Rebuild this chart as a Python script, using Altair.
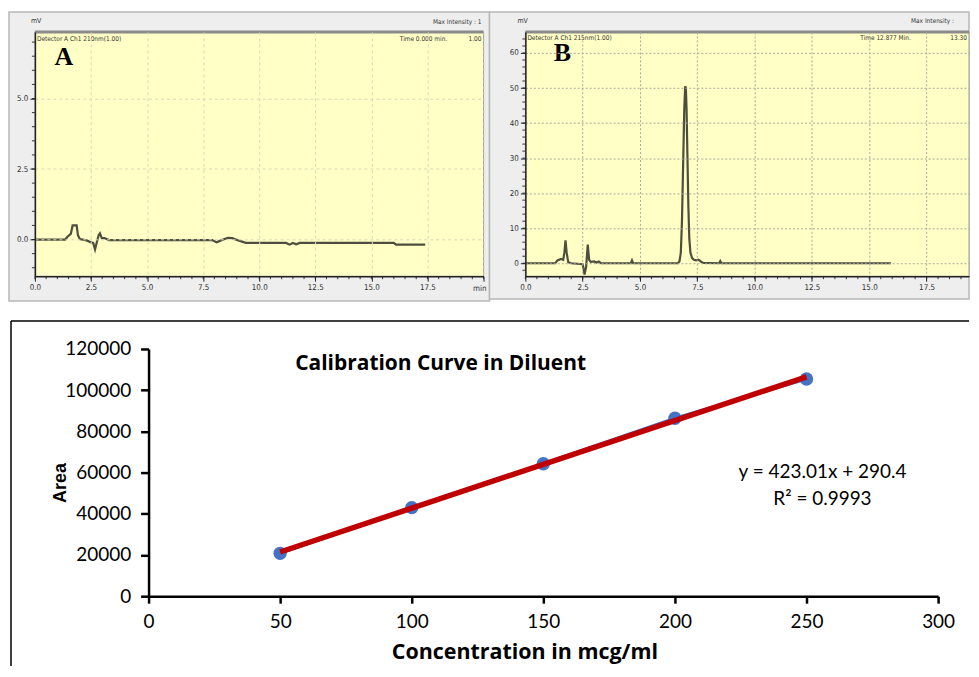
import altair as alt
import pandas as pd

# ---------------- data ----------------
# Chromatogram A (blank / diluent): retention time (min), signal (mV)
a_time = [0.0, 1.35, 1.45, 1.6, 1.68, 1.86, 1.92, 2.0, 2.3, 2.5, 2.6, 2.68, 2.76, 2.84, 2.9, 2.98,
          3.1, 3.3, 7.9, 8.1, 8.3, 8.6, 8.8, 9.1, 9.4, 11.2, 11.35, 11.5, 11.65, 11.8, 16.0, 16.1, 17.4]
a_signal = [0.0, 0.0, 0.1, 0.2, 0.5, 0.5, 0.15, 0.02, -0.03, -0.1, -0.12, -0.35, -0.1, 0.15, 0.22, 0.05,
            0.05, -0.02, -0.02, -0.1, -0.03, 0.06, 0.05, -0.04, -0.12, -0.12, -0.18, -0.12, -0.17, -0.12,
            -0.12, -0.18, -0.18]

# Chromatogram B (standard): retention time (min), signal (mV)
b_time = [0.0, 1.3, 1.4, 1.55, 1.65, 1.7, 1.75, 1.8, 1.87, 2.0, 2.5, 2.58, 2.65, 2.72, 2.78, 2.85,
          3.0, 3.1, 3.2, 3.3, 4.6, 4.65, 4.7, 6.65, 6.72, 6.78, 6.83, 6.88, 6.93, 6.97, 7.0, 7.03,
          7.07, 7.11, 7.15, 7.2, 7.27, 7.35, 7.45, 7.55, 7.65, 7.75, 8.45, 8.5, 8.55, 15.95]
b_signal = [0.0, 0.0, 0.8, 1.2, 1.0, 3.0, 6.5, 3.0, 0.3, 0.0, -0.3, -3.2, -1.0, 5.3, 1.0, 0.4,
            0.5, 0.2, 0.5, 0.0, 0.0, 0.8, 0.0, 0.0, 0.5, 3.0, 12.0, 28.0, 44.0, 50.5, 50.0, 44.0,
            30.0, 16.0, 7.0, 3.0, 1.5, 1.0, 0.8, 1.0, 0.5, 0.1, 0.0, 0.6, 0.0, 0.0]

# Calibration curve
conc = [50, 100, 150, 200, 250]
area = [20800, 43000, 64300, 86400, 105400]

a_xticks = [0.0, 2.5, 5.0, 7.5, 10.0, 12.5, 15.0, 17.5, 20.0]
a_yticks = [0.0, 2.5, 5.0]
b_xticks = [0.0, 2.5, 5.0, 7.5, 10.0, 12.5, 15.0, 17.5]
b_yticks = [0, 10, 20, 30, 40, 50, 60]
c_xticks = [0, 50, 100, 150, 200, 250, 300]
c_yticks = [0, 20000, 40000, 60000, 80000, 100000, 120000]

# minor tick positions of the chromatogram axes
a_xminor = [i * 0.5 for i in range(41)]
a_yminor = [i * 0.5 for i in range(-2, 15)]
b_xminor = [i * 0.5 for i in range(39)]
b_yminor = [i * 2 for i in range(-1, 33)]

one = pd.DataFrame({"k": [0]})

SMALL = "DejaVu Sans Condensed"


def txt(s, x, y, size=7, font=SMALL, weight="normal", align="left", color="#333333", baseline="alphabetic"):
    return alt.Chart(one).mark_text(text=s, font=font, fontSize=size, fontWeight=weight, align=align,
                                    baseline=baseline, color=color, clip=False).encode(
        x=alt.value(x), y=alt.value(y))


def chromatogram(times, signals, xdom, ydom, xticks, yticks, xminor, yminor, xlabel_expr, ylabel_expr,
                 w, h, fx0, fx1, fy1, grid_color, grid_dash, texts):
    df = pd.DataFrame({"t": times, "s": signals})
    xs = alt.Scale(domain=xdom, nice=False, zero=False)
    ys = alt.Scale(domain=ydom, nice=False, zero=False)
    frame = alt.Chart(one).mark_rect(fill="#EEEEEE", stroke="#B8B8B8", strokeWidth=1.5, clip=False).encode(
        x=alt.value(fx0), x2=alt.value(fx1), y=alt.value(-20), y2=alt.value(fy1))
    plotbg = alt.Chart(one).mark_rect(fill="#FFFFC6", stroke="#A0A0A0", strokeWidth=1).encode(
        x=alt.value(0), x2=alt.value(w), y=alt.value(0), y2=alt.value(h))
    topbar = alt.Chart(one).mark_rule(color="#8A8A8A", strokeWidth=3, clip=False).encode(
        x=alt.value(0), x2=alt.value(w), y=alt.value(0))
    common = dict(title=None, grid=True, gridColor=grid_color, gridDash=grid_dash, gridWidth=1,
                  tickSize=5, tickColor="#222222", domainColor="#222222", domainWidth=1.5,
                  labelFont=SMALL, labelFontSize=8, labelColor="#333333", labelPadding=2,
                  labelFlush=False, zindex=1)
    line = alt.Chart(df).mark_line(color="#4E4E3E", strokeWidth=2.2, clip=True).encode(
        x=alt.X("t:Q", scale=xs, axis=alt.Axis(values=xticks, labelExpr=xlabel_expr, **common)),
        y=alt.Y("s:Q", scale=ys, axis=alt.Axis(values=yticks, labelExpr=ylabel_expr, **common)),
    )
    xm = alt.Chart(pd.DataFrame({"t": xminor})).mark_rule(color="#333333", strokeWidth=1, clip=False).encode(
        x=alt.X("t:Q"), y=alt.value(h), y2=alt.value(h + 3))
    ym = alt.Chart(pd.DataFrame({"s": yminor})).mark_rule(color="#333333", strokeWidth=1, clip=False).encode(
        y=alt.Y("s:Q"), x=alt.value(-3), x2=alt.value(0))
    layers = [frame, plotbg, line, xm, ym, topbar] + texts
    return alt.layer(*layers).properties(width=w, height=h)


WA, HA = 450, 245
WB, HB = 445, 245

chartA = chromatogram(
    a_time, a_signal, [0, 20], [-1.3, 7.36], a_xticks, a_yticks, a_xminor, a_yminor,
    "datum.value == 20 ? '' : format(datum.value, '.1f')", "format(datum.value, '.1f')",
    WA, HA, -26, WA + 6, HA + 25, "#D9D9B8", [3, 3],
    [
        txt("A", 29, 33, size=26, font="Liberation Serif", weight="bold", align="center", color="#000000"),
        txt("mV", -4, -9, size=7),
        txt("min", WA + 3, HA + 15, size=8, align="right"),
        txt("Detector A Ch1 210nm(1.00)", 2, 9, size=6.5),
        txt("Time   0.000   min.", 366, 9, size=6.5),
        txt("1.00", 448, 9, size=6.5, align="right"),
        txt("Max Intensity :   1", 448, -8, size=6.5, align="right"),
    ])

chartB = chromatogram(
    b_time, b_signal, [0, 19.35], [-3.7, 66], b_xticks, b_yticks, b_xminor, b_yminor,
    "format(datum.value, '.1f')", "format(datum.value, 'd')",
    WB, HB, -36, WB, HB + 23, "#A8A8A0", [2, 2],
    [
        txt("B", 37, 29, size=26, font="Liberation Serif", weight="bold", align="center", color="#000000"),
        txt("mV", -8, -9, size=7),
        txt("Detector A Ch1 215nm(1.00)", 2, 8, size=6.5),
        txt("Time   12.877   Min.", 336, 8, size=6.5),
        txt("13.30", WB - 2, 8, size=6.5, align="right"),
        txt("Max Intensity :", 430, -9, size=6.5, align="right"),
    ])

spacer = alt.Chart(one).mark_point(opacity=0).encode(
    x=alt.value(0), y=alt.value(0)).properties(width=114, height=248)

WC, HC = 792, 248
cal = pd.DataFrame({"conc": conc, "area": area})
base = alt.Chart(cal)
xC = alt.X("conc:Q", scale=alt.Scale(domain=[0, 300], nice=False),
           axis=alt.Axis(values=c_xticks, title="Concentration in mcg/ml", grid=False, labelFlush=False,
                         labelFont="Lato", labelFontSize=19, labelColor="#000000", labelPadding=9,
                         tickSize=7, tickWidth=2.5, tickColor="#000000", domainColor="#000000",
                         domainWidth=2.5, titleFont="Open Sans", titleFontSize=21.5, titleFontWeight="bold",
                         titleColor="#000000", titleX=377, titleY=62, titleBaseline="alphabetic"))
yC = alt.Y("area:Q", scale=alt.Scale(domain=[0, 120000], nice=False),
           axis=alt.Axis(values=c_yticks, format="d", title="Area", grid=False, labelFlush=False,
                         labelFont="Lato", labelFontSize=19, labelColor="#000000", labelPadding=10,
                         tickSize=8, tickWidth=2.5, tickColor="#000000", domainColor="#000000",
                         domainWidth=2.5, titleFont="Liberation Sans", titleFontSize=18,
                         titleFontWeight="bold", titleColor="#000000", titleX=-83, titleY=134,
                         titleAlign="center", titleBaseline="alphabetic", titleAngle=270))
blue_line = base.mark_line(color="#4472C4", strokeWidth=3).encode(x=xC, y=yC)
pts = base.mark_circle(color="#4472C4", size=180, opacity=1).encode(x="conc:Q", y="area:Q")
trend = base.transform_regression("conc", "area", extent=[50, 250]).mark_line(
    color="#C00000", strokeWidth=5.5).encode(x="conc:Q", y="area:Q")
frame_left = alt.Chart(one).mark_rule(color="#000000", strokeWidth=1.5, clip=False).encode(
    x=alt.value(-138), y=alt.value(-28), y2=alt.value(318))
frame_top = alt.Chart(one).mark_rule(color="#000000", strokeWidth=1.5, clip=False).encode(
    x=alt.value(-138), x2=alt.value(823), y=alt.value(-28))
title_c = txt("Calibration Curve in Diluent", 293, 21, size=21, font="Open Sans", weight="bold",
              align="center", color="#000000")
eq1 = txt("y = 423.01x + 290.4", 676, 129, size=19, font="Lato", align="center", color="#000000")
eq2 = txt("R² = 0.9993", 676, 157, size=19, font="Lato", align="center", color="#000000")

chartC = alt.layer(frame_left, frame_top, blue_line, pts, trend, title_c, eq1, eq2).properties(
    width=WC, height=HC)

top_row = alt.hconcat(chartA, chartB, spacing=42, bounds="flush")
bottom_row = alt.hconcat(spacer, chartC, spacing=0, bounds="flush")

chart = alt.vconcat(top_row, bottom_row, spacing=318, bounds="flush").configure_view(
    strokeWidth=0).properties(padding={"left": 0, "top": 2, "right": 0, "bottom": 0}, background="white")

chart.save("out.html", embed_options={"renderer": "svg", "actions": False})
